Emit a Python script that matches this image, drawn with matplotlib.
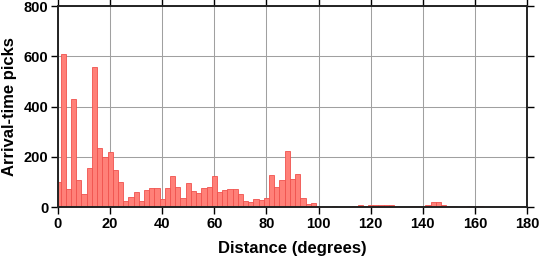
import matplotlib
matplotlib.use('Agg')
import matplotlib.pyplot as plt

# histogram of arrival-time picks, 2-degree bins centred on even degrees
bin_centers = list(range(0, 182, 2))
counts = [100, 610, 74, 432, 109, 53, 156, 556, 236, 199,
          220, 148, 101, 26, 42, 61, 26, 69, 77, 77,
          34, 77, 125, 82, 37, 95, 64, 56, 77, 80,
          125, 61, 69, 74, 74, 53, 24, 21, 34, 29,
          37, 127, 80, 109, 223, 111, 133, 37, 13, 16,
          0, 0, 0, 4, 0, 0, 0, 4, 8, 4,
          8, 8, 11, 8, 8, 4, 0, 0, 4, 4,
          4, 11, 21, 21, 8, 4, 4, 0, 0, 4,
          0, 4, 0, 0, 0, 0, 0, 0, 0, 0,
          0]
x_ticks = [0, 20, 40, 60, 80, 100, 120, 140, 160, 180]
y_ticks = [0, 200, 400, 600, 800]

plt.rcParams['font.family'] = ['Liberation Sans', 'DejaVu Sans']
plt.rcParams['font.weight'] = 'bold'

fig = plt.figure(figsize=(5.39, 2.58), dpi=100)
ax = fig.add_axes([0.1076, 0.1965, 0.8701, 0.7802])

ax.bar(bin_centers, counts, width=2, color='#ff8078', edgecolor='#f0524e',
       linewidth=0.6, zorder=1)

ax.set_xlim(0, 180)
ax.set_ylim(0, 800)
ax.set_xticks(x_ticks)
ax.set_yticks(y_ticks)
ax.grid(True, color='#a0a0a0', linewidth=0.75, zorder=0)
ax.set_axisbelow(True)

for side in ['left', 'right', 'top', 'bottom']:
    ax.spines[side].set_linewidth(1.4)
    ax.spines[side].set_color('#222222')

ax.tick_params(direction='out', length=5, width=1.0, labelsize=10.5, pad=2,
               top=True, right=True, labeltop=False, labelright=False)
for lbl in ax.get_xticklabels() + ax.get_yticklabels():
    lbl.set_fontweight('bold')

ax.set_xlabel('Distance (degrees)', fontsize=12, fontweight='bold', labelpad=7)
ax.set_ylabel('Arrival-time picks', fontsize=12, fontweight='bold', labelpad=5)

fig.savefig('out.png', dpi=100)
